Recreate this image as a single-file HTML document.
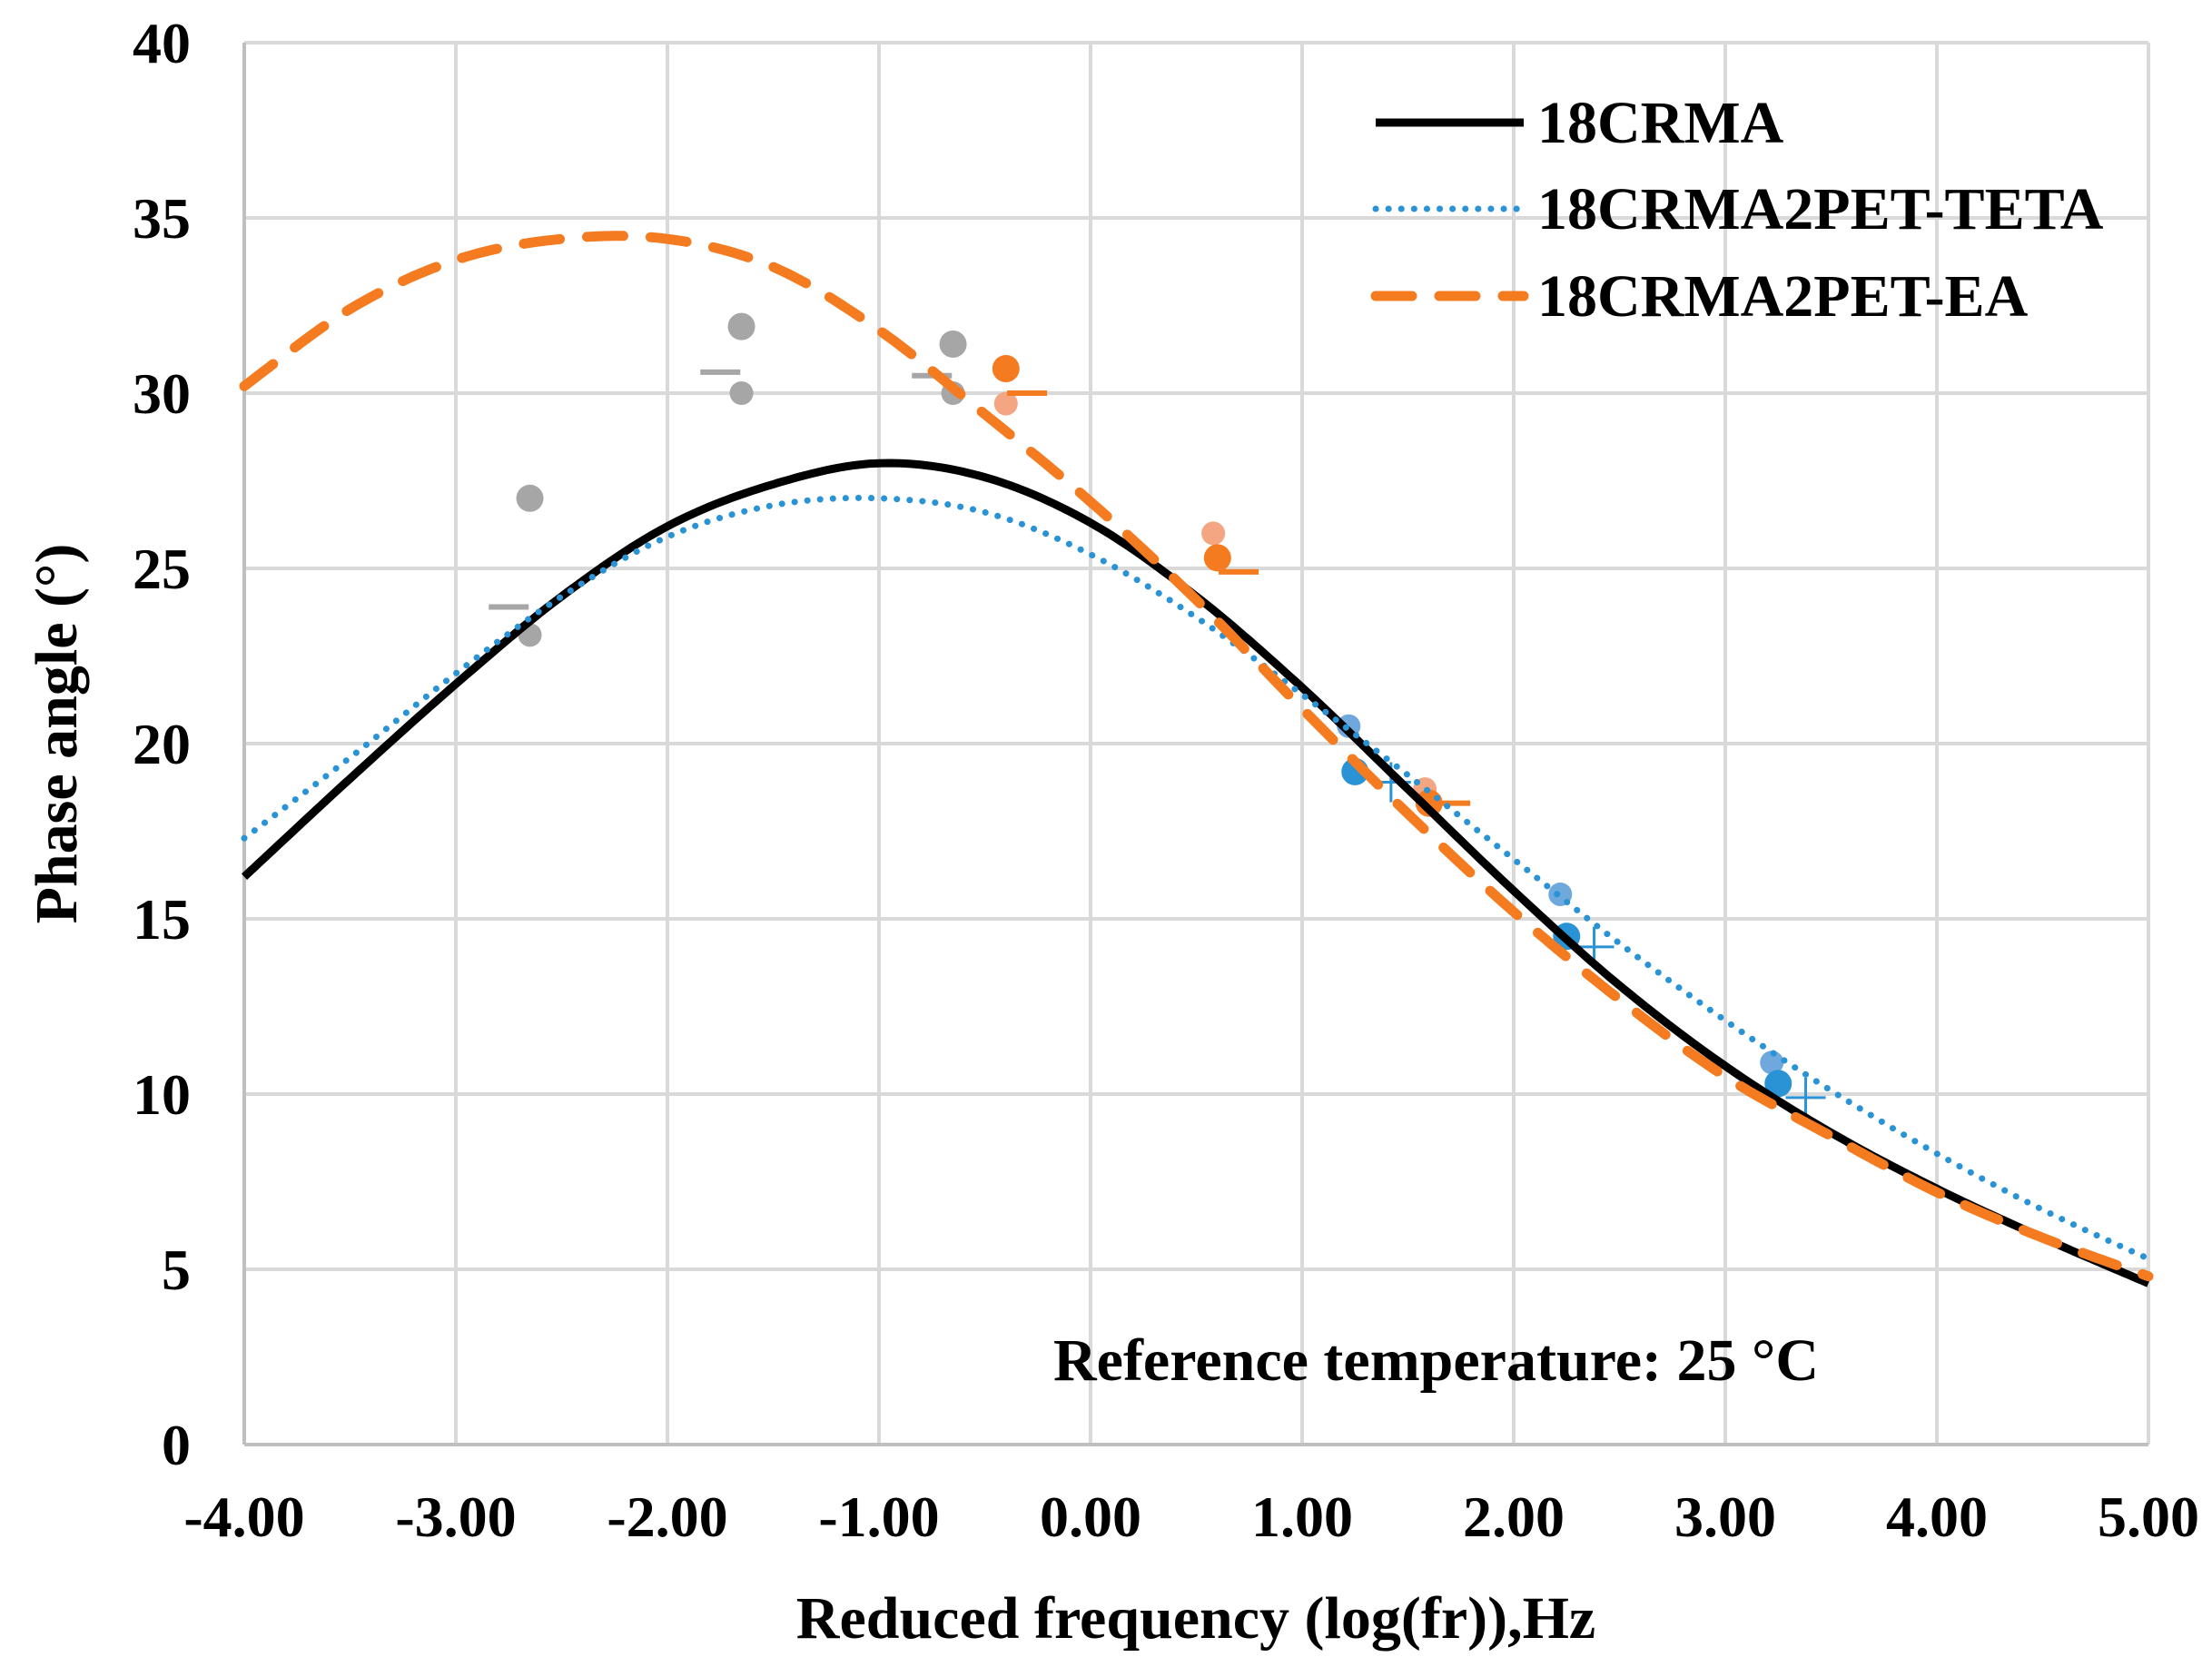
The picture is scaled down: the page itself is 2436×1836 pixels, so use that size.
<!DOCTYPE html>
<html><head><meta charset="utf-8"><style>
html,body{margin:0;padding:0;background:#fff;}
svg{display:block;}
text{font-family:"Liberation Serif",serif;font-weight:bold;fill:#000;}
</style></head><body>
<svg id="s" width="2436" height="1836" viewBox="0 0 2436 1836" xmlns="http://www.w3.org/2000/svg"></svg>
<script>
const L=269,R=2366,T=47,B=1591;
const X=x=>L+(x+4)*(R-L)/9, Y=y=>B-y*(B-T)/40;
let h='';
for(let i=0;i<=9;i++){h+=`<line x1="${X(i-4)}" y1="${T}" x2="${X(i-4)}" y2="${B}" stroke="#d9d9d9" stroke-width="4"/>`;}
for(let j=0;j<=8;j++){h+=`<line x1="${L}" y1="${Y(j*5)}" x2="${R}" y2="${Y(j*5)}" stroke="#d9d9d9" stroke-width="4"/>`;}
h+=`<line x1="${L}" y1="${T}" x2="${L}" y2="${B}" stroke="#bfbfbf" stroke-width="4"/><line x1="${L}" y1="${B}" x2="${R}" y2="${B}" stroke="#bfbfbf" stroke-width="4"/>`;
for(let j=0;j<=8;j++){h+=`<text x="210" y="${Y(j*5)+22}" font-size="64" text-anchor="end">${j*5}</text>`;}
for(let i=0;i<=9;i++){h+=`<text x="${X(i-4)}" y="1692" font-size="64" text-anchor="middle">${(i-4).toFixed(2)}</text>`;}
h+=`<text x="1317" y="1804" font-size="66" text-anchor="middle">Reduced frequency (log(fr)),Hz</text>`;
h+=`<text transform="translate(84,808) rotate(-90)" font-size="66" text-anchor="middle">Phase angle (°)</text>`;
h+=`<text x="1160" y="1520" font-size="66">Reference temperature: 25 °C</text>`;
function cr(p){let pts=[];for(let i=0;i<p.length-1;i++){const p0=p[Math.max(0,i-1)],p1=p[i],p2=p[i+1],p3=p[Math.min(p.length-1,i+2)];for(let t=0;t<1;t+=0.05){const t2=t*t,t3=t2*t;const f=(a,b,c,d)=>0.5*((2*b)+(-a+c)*t+(2*a-5*b+4*c-d)*t2+(-a+3*b-3*c+d)*t3);pts.push([f(p0[0],p1[0],p2[0],p3[0]),f(p0[1],p1[1],p2[1],p3[1])]);}}pts.push(p[p.length-1]);return pts.map(q=>X(q[0]).toFixed(1)+','+Y(q[1]).toFixed(1)).join(' ');}
const blk=[[-4,16.2],[-3.5,19],[-3,21.7],[-2.5,24.2],[-2,26.2],[-1.5,27.4],[-1,28],[-0.5,27.6],[0,26.3],[0.5,24.2],[1,21.6],[1.5,18.7],[2,15.8],[2.5,13.1],[3,10.8],[3.5,8.9],[4,7.3],[4.5,5.9],[5,4.6]];
const blu=[[-4,17.3],[-3.5,19.6],[-3,22],[-2.5,24.2],[-2,25.9],[-1.5,26.8],[-1,27],[-0.5,26.6],[0,25.4],[0.5,23.6],[1,21.4],[1.5,19.1],[2,16.7],[2.5,14.3],[3,12.1],[3.5,10.1],[4,8.3],[4.5,6.7],[5,5.3]];
const org=[[-4,30.2],[-3.5,32.4],[-3,33.8],[-2.5,34.4],[-2,34.4],[-1.5,33.6],[-1,31.8],[-0.5,29.4],[0,26.9],[0.5,24.1],[1,21],[1.5,18],[2,15.2],[2.5,12.7],[3,10.5],[3.5,8.8],[4,7.2],[4.5,5.9],[5,4.8]];
const c=(x,y,r,f)=>`<circle cx="${X(x)}" cy="${Y(y)}" r="${r}" fill="${f}"/>`;
const d=(x,y,f)=>`<line x1="${X(x)-22}" y1="${Y(y)}" x2="${X(x)+22}" y2="${Y(y)}" stroke="${f}" stroke-width="6"/>`;
const p=(x,y)=>`<path d="M${X(x)-22},${Y(y)}h44M${X(x)},${Y(y)-22}v44" stroke="#2a93d5" stroke-width="3"/>`;
const G='#a6a6a6';
h+=c(-2.65,27,15,G)+c(-2.65,23.1,13,G)+c(-1.65,31.9,15,G)+c(-1.65,30,13,G)+c(-0.65,31.4,15,G)+c(-0.65,30,13,G);
h+=d(-2.75,23.9,G)+d(-1.75,30.6,G)+d(-0.75,30.5,G);
h+=c(-0.4,29.7,13,'#f4a582')+c(-0.4,30.7,15,'#f47b20')+d(-0.3,30,'#f47b20');
h+=c(0.58,26,13,'#f4a582')+c(0.6,25.3,15,'#f47b20')+d(0.7,24.9,'#f47b20');
h+=c(1.58,18.7,13,'#f4a582')+c(1.6,18.3,15,'#f47b20')+d(1.7,18.3,'#f47b20');
h+=c(1.22,20.5,13,'#6fa8dc')+c(1.25,19.2,15,'#2a93d5')+p(1.42,18.9);
h+=c(2.22,15.7,13,'#6fa8dc')+c(2.25,14.5,15,'#2a93d5')+p(2.38,14.2);
h+=c(3.22,10.9,13,'#6fa8dc')+c(3.25,10.3,15,'#2a93d5')+p(3.38,9.9);
h+=`<polyline points="${cr(blk)}" fill="none" stroke="#000" stroke-width="9"/>`;
h+=`<polyline points="${cr(blu)}" fill="none" stroke="#2a93d5" stroke-width="7" stroke-dasharray="0.1 14" stroke-linecap="round"/>`;
h+=`<polyline points="${cr(org)}" fill="none" stroke="#f47b20" stroke-width="11" stroke-dasharray="40 30" stroke-linecap="round"/>`;
h+=`<line x1="1515" y1="135" x2="1678" y2="135" stroke="#000" stroke-width="9"/><text x="1693" y="157" font-size="66">18CRMA</text>`;
h+=`<line x1="1515" y1="230" x2="1678" y2="230" stroke="#2a93d5" stroke-width="7" stroke-dasharray="0.1 14" stroke-linecap="round"/><text x="1693" y="252" font-size="66">18CRMA2PET-TETA</text>`;
h+=`<line x1="1515" y1="326" x2="1678" y2="326" stroke="#f47b20" stroke-width="11" stroke-dasharray="40 30" stroke-linecap="round"/><text x="1693" y="348" font-size="66">18CRMA2PET-EA</text>`;
document.getElementById('s').innerHTML=h;
</script>
</body></html>
